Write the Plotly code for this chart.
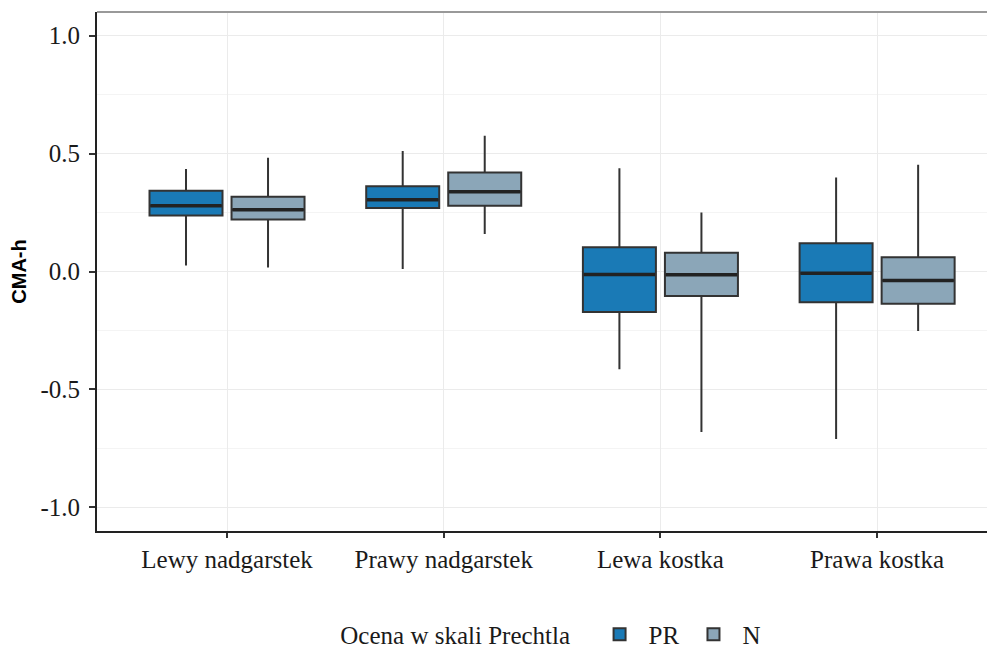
import plotly.graph_objects as go

categories = ["Lewy nadgarstek", "Prawy nadgarstek", "Lewa kostka", "Prawa kostka"]

pr_lower = [0.025, 0.011, -0.414, -0.71]
pr_q1 = [0.237, 0.269, -0.172, -0.13]
pr_median = [0.279, 0.304, -0.013, -0.007]
pr_q3 = [0.342, 0.361, 0.103, 0.12]
pr_upper = [0.435, 0.511, 0.438, 0.398]

n_lower = [0.017, 0.159, -0.68, -0.252]
n_q1 = [0.22, 0.279, -0.104, -0.137]
n_median = [0.262, 0.338, -0.014, -0.038]
n_q3 = [0.317, 0.42, 0.079, 0.06]
n_upper = [0.482, 0.575, 0.25, 0.452]

y_ticks = [-1.0, -0.5, 0.0, 0.5, 1.0]
y_tick_labels = ["-1.0", "-0.5", "0.0", "0.5", "1.0"]

serif = "Liberation Serif, Times New Roman, serif"
line_col = "#333333"
BOXGAP = 0.243
GROUPGAP = 0.11
FS = 25
XRANGE = [-0.6, 3.544]

fig = go.Figure()
fig.add_trace(go.Box(
    name="PR", x=categories, q1=pr_q1, median=pr_median, q3=pr_q3,
    lowerfence=pr_lower, upperfence=pr_upper,
    fillcolor="#1a7ab6", line=dict(color=line_col, width=2),
    whiskerwidth=0, boxpoints=False, hoverinfo="skip",
))
fig.add_trace(go.Box(
    name="N", x=categories, q1=n_q1, median=n_median, q3=n_q3,
    lowerfence=n_lower, upperfence=n_upper,
    fillcolor="#8ba6b8", line=dict(color=line_col, width=2),
    whiskerwidth=0, boxpoints=False, hoverinfo="skip",
))

# thicker median bars (ggplot style), drawn on an overlaid numeric axis
slot = (1 - BOXGAP) / 2
half_w = slot * (1 - GROUPGAP) / 2
for sign, meds in ((-1, pr_median), (1, n_median)):
    xs, ys = [], []
    for i, m in enumerate(meds):
        c = i + sign * slot / 2
        xs += [c - half_w + 0.004, c + half_w - 0.004, None]
        ys += [m, m, None]
    fig.add_trace(go.Scatter(x=xs, y=ys, xaxis="x2", mode="lines",
                             line=dict(color="#222222", width=3.5),
                             showlegend=False, hoverinfo="skip"))

# page body has an 8px margin: figure occupies (8..995, 8..648)
fig.update_layout(
    width=987, height=640,
    margin=dict(l=89, r=0, t=4, b=117, autoexpand=False),
    paper_bgcolor="white", plot_bgcolor="white",
    boxmode="group", boxgap=BOXGAP, boxgroupgap=GROUPGAP,
    font=dict(family=serif, size=FS, color="#1a1a1a"),
    showlegend=True,
    legend=dict(
        orientation="h", x=0.507, xanchor="center", y=-0.155, yanchor="top",
        title=dict(text="Ocena w skali Prechtla  ", font=dict(family=serif, size=FS)),
        font=dict(family=serif, size=FS),
        itemwidth=48,
    ),
    xaxis=dict(type="category", range=XRANGE, automargin=False,
               showgrid=True, gridcolor="#ebebeb", gridwidth=1,
               showline=True, linecolor="#222222", linewidth=2,
               ticks="outside", ticklen=5, tickcolor="#333333", tickwidth=2,
               tickfont=dict(family=serif, size=FS, color="#1a1a1a"),
               zeroline=False),
    xaxis2=dict(overlaying="x", range=XRANGE, visible=False, showgrid=False),
    yaxis=dict(
        range=[-1.1, 1.1], automargin=False,
        tickvals=y_ticks, ticktext=y_tick_labels,
        showgrid=True, gridcolor="#ebebeb", gridwidth=1,
        minor=dict(tickvals=[-0.75, -0.25, 0.25, 0.75], showgrid=True, gridcolor="#f4f4f4", gridwidth=1),
        showline=True, linecolor="#222222", linewidth=2,
        ticks="outside", ticklen=6, tickcolor="#333333", tickwidth=2,
        ticklabelstandoff=4,
        tickfont=dict(family=serif, size=FS, color="#1a1a1a"),
        zeroline=False,
        title=dict(text="<b>CMA-h</b>", font=dict(family="Liberation Sans, Arial, sans-serif", size=20, color="#000000"), standoff=12),
    ),
)

fig.add_shape(type="line", xref="paper", yref="paper", x0=0, x1=1, y0=1, y1=1,
              line=dict(color="#999999", width=2))

fig.write_html("out.html")
